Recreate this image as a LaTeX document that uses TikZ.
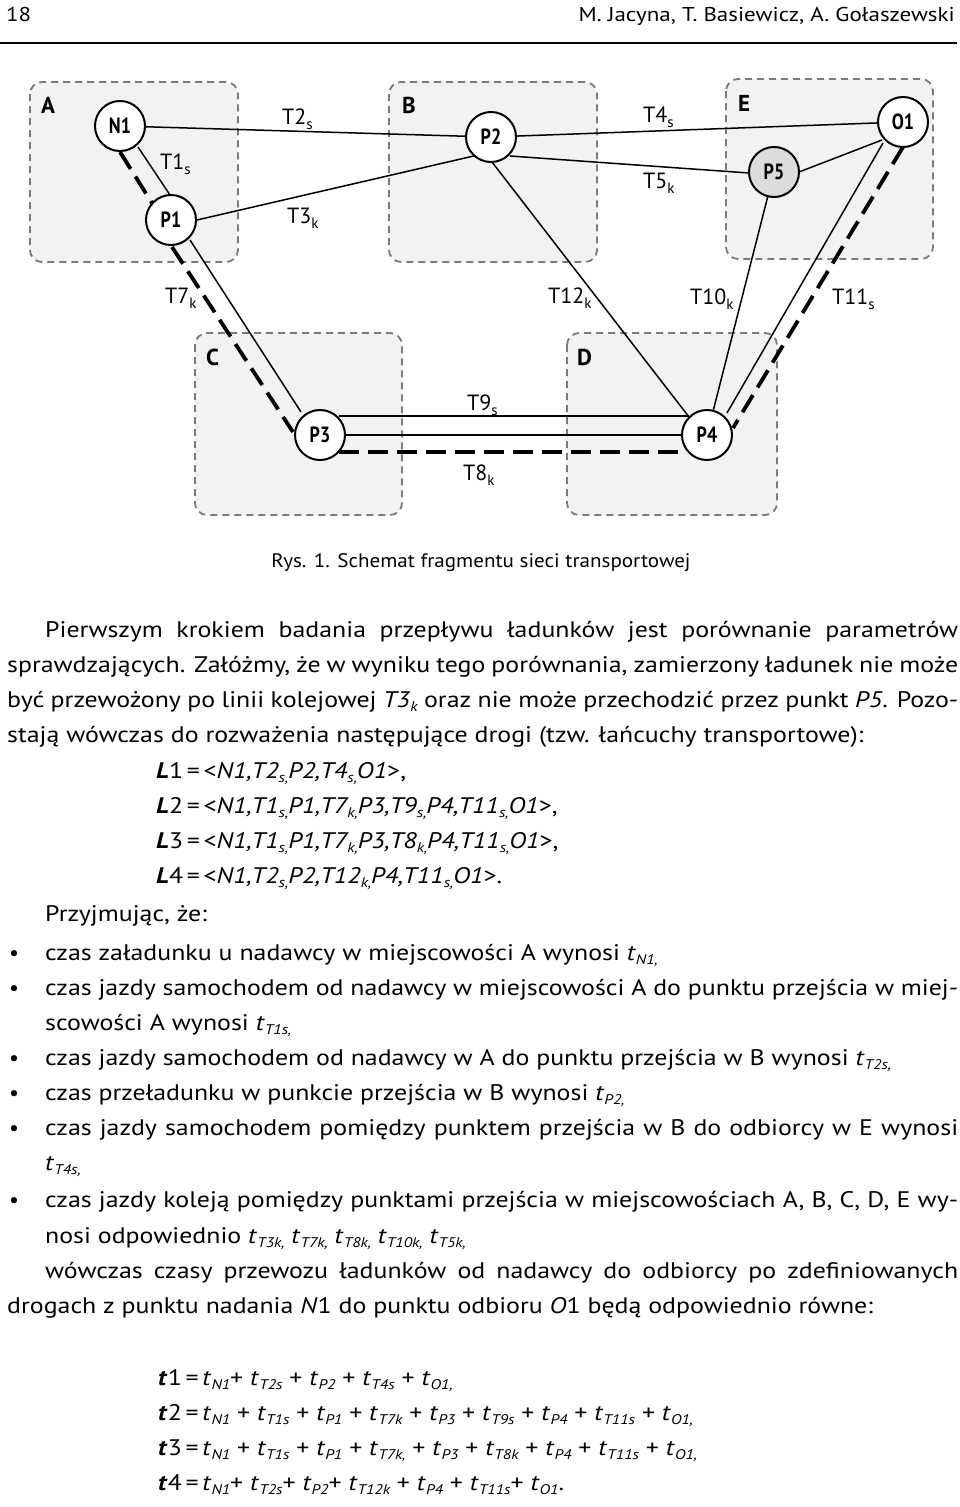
\documentclass[tikz,border=0pt]{standalone}
\usepackage{fontspec}
\setmainfont{PT Sans}
\newfontfamily\bodyf{PT Sans}[FakeStretch=1.15]
\newfontfamily\capf{PT Sans}[FakeStretch=1.08]
\usetikzlibrary{calc}
\pgfdeclarelayer{boxes}
\pgfdeclarelayer{edges}
\pgfsetlayers{boxes,edges,main}
\definecolor{boxfill}{HTML}{F1F2F4}
\definecolor{boxline}{HTML}{7A7A7A}
\definecolor{pfivefill}{HTML}{DCDCDC}
\newcommand\dsub[1]{\raisebox{-5pt}{\fontsize{15}{15}\selectfont #1}}
\newcommand\tsub[1]{\raisebox{-4.5pt}{\fontsize{14}{14}\selectfont\itshape #1}}
\newcommand\cond[1]{\scalebox{0.82}[1]{#1}}
\newcommand\tv[1]{\textit{t}\tsub{#1}}
\newcommand\jl[2]{\makebox[#1][s]{#2}}
\tikzset{
  region/.style={draw=boxline, fill=boxfill, line width=1.8pt, dash pattern=on 7pt off 5pt, rounded corners=12pt},
  stop/.style={circle, draw, line width=2pt, fill=white, minimum size=50pt, inner sep=0pt, font=\fontsize{22}{22}\selectfont\bfseries},
  road/.style={line width=1.5pt},
  rail/.style={line width=3.8pt, dash pattern=on 20pt off 9pt},
  lbl/.style={anchor=base west, inner sep=0pt, font=\fontsize{22}{22}\selectfont},
  reg/.style={anchor=base west, inner sep=0pt, font=\fontsize{23}{23}\selectfont\bfseries},
  txt/.style={anchor=base west, inner sep=0pt, font=\fontsize{22.5}{22.5}\selectfont\bodyf},
  bul/.style={anchor=base, inner sep=0pt, font=\fontsize{22}{22}\selectfont},
}
\begin{document}
\begin{tikzpicture}[x=1pt,y=-1pt]
\useasboundingbox (0,0) rectangle (960,1507);
% header
\node[txt, font=\fontsize{20}{20}\selectfont\bodyf] (pg) at (6,21) {18};
\node[txt, anchor=base east, font=\fontsize{20}{20}\selectfont\bodyf] (auth) at (955,21) {M. Jacyna, T. Basiewicz, A. Gołaszewski};
\draw[line width=1.8pt] (0,43) -- (957,43);
% regions
\begin{pgfonlayer}{boxes}
\draw[region] (30,82) rectangle (238,262);
\draw[region] (389,82) rectangle (597,262);
\draw[region] (726,79) rectangle (933,259);
\draw[region] (195,333) rectangle (402,515);
\draw[region] (567,333) rectangle (777,515);
\end{pgfonlayer}
\node[reg] (lA) at (41,113) {A};
\node[reg] (lB) at (402,113) {B};
\node[reg] (lE) at (738,111) {E};
\node[reg] (lC) at (206,365) {C};
\node[reg] (lD) at (577,365) {D};
% stops
\node[stop] (N1) at (120,126) {\cond{N1}};
\node[stop] (P1) at (171,220) {\cond{P1}};
\node[stop] (P2) at (491,137) {\cond{P2}};
\node[stop] (O1) at (903,122) {\cond{O1}};
\node[stop, fill=pfivefill] (P5) at (774,172) {\cond{P5}};
\node[stop] (P3) at (320,435) {\cond{P3}};
\node[stop] (P4) at (707,435) {\cond{P4}};
% links
\begin{pgfonlayer}{edges}
\draw[road] (N1.center) -- (P2.center);
\draw[road] ($(P1.center)+(0,6)$) -- ($(P2.center)+(0,15)$);
\draw[road] ($(P2.center)+(1,25)$) -- ($(P4.center)+(-18,-18)$);
\draw[road] (P2.center) -- (O1.center);
\draw[road] ($(P2.center)+(19,19)$) -- ($(P5.center)+(-25,1)$);
\draw[road] ($(P5.center)+(25,0)$) -- ($(O1.center)+(-21,18)$);
\draw[road] (P5.center) -- (P4.center);
\draw[road] ($(O1.center)+(-20,21)$) -- ($(P4.center)+(20,-22)$);
\draw[rail] ($(O1.center)+(0,25)$) -- ($(P4.center)+(26,-7)$);
\draw[road] ($(N1.center)+(18,21)$) -- ($(P1.center)+(-1,-25)$);
\draw[rail] ($(N1.center)+(0,26)$) -- ($(P1.center)+(-19,-17)$);
\draw[road] ($(P1.center)+(19,20)$) -- ($(P3.center)+(-19,-23)$);
\draw[rail] ($(P1.center)+(1,27)$) -- ($(P3.center)+(-27,-3)$);
\draw[road] ($(P3.center)+(19,-19)$) -- ($(P4.center)+(-18,-19)$);
\draw[road] (P3.center) -- (P4.center);
\draw[rail] ($(P3.center)+(19,17)$) -- ($(P4.center)+(-20,17)$);
\end{pgfonlayer}
% link labels
\node[lbl] (lT2) at (282,124) {T2\dsub{s}};
\node[lbl] (lT1) at (160,169) {T1\dsub{s}};
\node[lbl] (lT3) at (287,223) {T3\dsub{k}};
\node[lbl] (lT4) at (643,122) {T4\dsub{s}};
\node[lbl] (lT5) at (643,188) {T5\dsub{k}};
\node[lbl] (lT7) at (165,303) {T7\dsub{k}};
\node[lbl] (lT12) at (548,303) {T12\dsub{k}};
\node[lbl] (lT10) at (690,304) {T10\dsub{k}};
\node[lbl] (lT11) at (832,304) {T11\dsub{s}};
\node[lbl] (lT9) at (467,410) {T9\dsub{s}};
\node[lbl] (lT8) at (463,480) {T8\dsub{k}};
% caption
\node[txt, anchor=base, font=\fontsize{19.5}{19.5}\selectfont\capf] (cap) at (481,567) {Rys. 1. Schemat fragmentu sieci transportowej};
% body
\node[txt] (b1) at (45,637) {\jl{913pt}{Pierwszym krokiem badania przepływu ładunków jest porównanie parametrów}};
\node[txt] (b2) at (7,672) {\jl{951pt}{sprawdzających. Załóżmy, że w wyniku tego porównania, zamierzony ładunek nie może}};
\node[txt] (b3) at (7,707) {\jl{951pt}{być przewożony po linii kolejowej \textit{T3}\tsub{k} oraz nie może przechodzić przez punkt \textit{P5}. Pozo-}};
\node[txt] (b4) at (7,742) {stają wówczas do rozważenia następujące drogi (tzw. łańcuchy transportowe):};
\node[txt] (L1) at (156,778) {\textbf{\textit{L}}1\,=\,<\textit{N1,T2\tsub{s,}P2,T4\tsub{s,}O1}>,};
\node[txt] (L2) at (156,813) {\textbf{\textit{L}}2\,=\,<\textit{N1,T1\tsub{s,}P1,T7\tsub{k,}P3,T9\tsub{s,}P4,T11\tsub{s,}O1}>,};
\node[txt] (L3) at (156,848) {\textbf{\textit{L}}3\,=\,<\textit{N1,T1\tsub{s,}P1,T7\tsub{k,}P3,T8\tsub{k,}P4,T11\tsub{s,}O1}>,};
\node[txt] (L4) at (156,883) {\textbf{\textit{L}}4\,=\,<\textit{N1,T2\tsub{s,}P2,T12\tsub{k,}P4,T11\tsub{s,}O1}>.};
\node[txt] (pz) at (45,921) {Przyjmując, że:};
\node[bul] (d1) at (14,960) {•};
\node[txt] (c1) at (45,960) {czas załadunku u nadawcy w miejscowości A wynosi \tv{N1,}};
\node[bul] (d2) at (14,995) {•};
\node[txt] (c2) at (45,995) {\jl{913pt}{czas jazdy samochodem od nadawcy w miejscowości A do punktu przejścia w miej-}};
\node[txt] (c2b) at (45,1030) {scowości A wynosi \tv{T1s,}};
\node[bul] (d3) at (14,1065) {•};
\node[txt] (c3) at (45,1065) {czas jazdy samochodem od nadawcy w A do punktu przejścia w B wynosi \tv{T2s,}};
\node[bul] (d4) at (14,1100) {•};
\node[txt] (c4) at (45,1100) {czas przeładunku w punkcie przejścia w B wynosi \tv{P2,}};
\node[bul] (d5) at (14,1135) {•};
\node[txt] (c5) at (45,1135) {\jl{913pt}{czas jazdy samochodem pomiędzy punktem przejścia w B do odbiorcy w E wynosi}};
\node[txt] (c5b) at (45,1170) {\tv{T4s,}};
\node[bul] (d6) at (14,1207) {•};
\node[txt] (c6) at (45,1207) {\jl{913pt}{czas jazdy koleją pomiędzy punktami przejścia w miejscowościach A, B, C, D, E wy-}};
\node[txt] (c6b) at (45,1243) {nosi odpowiednio \tv{T3k,} \tv{T7k,} \tv{T8k,} \tv{T10k,} \tv{T5k,}};
\node[txt] (w1) at (45,1278) {\jl{913pt}{wówczas czasy przewozu ładunków od nadawcy do odbiorcy po zdefiniowanych}};
\node[txt] (w2) at (7,1313) {drogach z punktu nadania \textit{N}1 do punktu odbioru \textit{O}1 będą odpowiednio równe:};
% formulas
\node[txt] (f1) at (158,1385) {\textbf{\textit{t}}1\,=\,\tv{N1}+ \tv{T2s} + \tv{P2} + \tv{T4s} + \tv{O1,}};
\node[txt] (f2) at (158,1420) {\textbf{\textit{t}}2\,=\,\tv{N1} + \tv{T1s} + \tv{P1} + \tv{T7k} + \tv{P3} + \tv{T9s} + \tv{P4} + \tv{T11s} + \tv{O1,}};
\node[txt] (f3) at (158,1455) {\textbf{\textit{t}}3\,=\,\tv{N1} + \tv{T1s} + \tv{P1} + \tv{T7k,} + \tv{P3} + \tv{T8k} + \tv{P4} + \tv{T11s} + \tv{O1,}};
\node[txt] (f4) at (158,1490) {\textbf{\textit{t}}4\,=\,\tv{N1}+ \tv{T2s}+ \tv{P2}+ \tv{T12k} + \tv{P4} + \tv{T11s}+ \tv{O1}.};
\end{tikzpicture}
\end{document}
